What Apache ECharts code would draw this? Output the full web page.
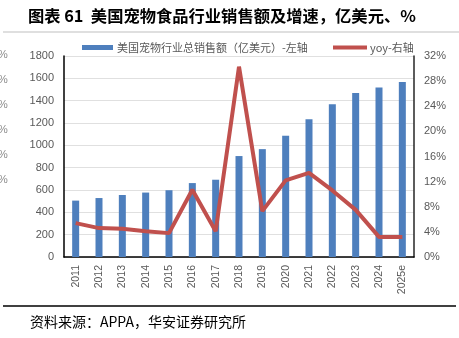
<!DOCTYPE html>
<html>
<head>
<meta charset="utf-8">
<script src="https://cdn.jsdelivr.net/npm/echarts@6/dist/echarts.min.js"></script>
<style>
  html, body { margin: 0; padding: 0; background: #fff; }
  #chart { width: 459px; height: 338px; }
</style>
</head>
<body>
<div id="chart"></div>
<script>
// Years on the category axis
const years = ['2011', '2012', '2013', '2014', '2015', '2016', '2017', '2018',
               '2019', '2020', '2021', '2022', '2023', '2024', '2025e'];
// Total US pet industry sales, 100 million USD (left axis)
const sales = [505, 528, 555, 577, 598, 662, 692, 904, 966, 1086, 1233, 1367, 1468, 1519, 1567];
// Year-over-year growth, % (right axis)
const yoy = [5.4, 4.6, 4.5, 4.1, 3.8, 10.7, 4.1, 30.3, 7.3, 12.2, 13.4, 10.6, 7.5, 3.2, 3.2];
// Axis tick settings
const leftTicks = { min: 0, max: 1800, interval: 200 };
const rightTicks = { min: 0, max: 32, interval: 4 };

const salesName = '美国宠物行业总销售额（亿美元）-左轴';
const yoyName = 'yoy-右轴';
const barColor = '#4e7fbd';
const lineColor = '#c0504d';
const labelColor = '#595959';
const cjk = '"Noto Sans CJK SC", "Liberation Sans", sans-serif';
const num = '"Liberation Sans", Arial, sans-serif';

const chart = echarts.init(document.getElementById('chart'), null, { renderer: 'canvas' });

// Clipped percent marks along the left edge
const ghost = [55, 80, 105, 130, 155, 180].map(y => ({
  type: 'text', left: -2, top: y - 6,
  style: { text: '%', fill: '#8c8c8c', font: '11px ' + num }
}));

chart.setOption({
  animation: false,
  backgroundColor: '#ffffff',
  grid: { left: 64, right: 45, top: 56, bottom: 81, containLabel: false },
  legend: [
    {
      data: [salesName], left: 77, top: 37, itemWidth: 31, itemHeight: 5, itemGap: 4,
      icon: 'rect',
      textStyle: { color: labelColor, fontSize: 11, fontFamily: cjk, padding: [0, 0, 0, -1] }
    },
    {
      data: [{ name: yoyName, icon: 'rect' }], left: 328, top: 37, itemWidth: 34, itemHeight: 4,
      textStyle: { color: labelColor, fontSize: 11, fontFamily: cjk, padding: [0, 0, 0, -2] }
    }
  ],
  xAxis: {
    type: 'category', data: years, boundaryGap: true,
    axisLine: { lineStyle: { color: '#000', width: 1.5 } },
    axisTick: { show: false },
    axisLabel: { rotate: 90, color: labelColor, fontSize: 10.5, fontFamily: num, margin: 8, interval: 0 }
  },
  yAxis: [
    {
      type: 'value', ...leftTicks,
      axisLine: { show: true, lineStyle: { color: '#000', width: 1.5 } },
      axisTick: { show: false },
      splitLine: { lineStyle: { color: '#e0e0e0', width: 1 } },
      axisLabel: { color: labelColor, fontSize: 11, fontFamily: num, margin: 10, formatter: v => String(v) }
    },
    {
      type: 'value', ...rightTicks, position: 'right',
      axisLine: { show: true, lineStyle: { color: '#262626', width: 1.5 } },
      axisTick: { show: false },
      splitLine: { show: false },
      axisLabel: { color: labelColor, fontSize: 11, fontFamily: num, margin: 10, formatter: v => v + '%' }
    }
  ],
  series: [
    {
      name: salesName, type: 'bar', data: sales, yAxisIndex: 0, barWidth: 7,
      itemStyle: { color: barColor }
    },
    {
      name: yoyName, type: 'line', data: yoy, yAxisIndex: 1,
      symbol: 'none', lineStyle: { color: lineColor, width: 4 }, itemStyle: { color: lineColor }
    }
  ],
  graphic: [
    {
      type: 'text', left: 28, top: 8,
      style: { text: '图表 61  美国宠物食品行业销售额及增速，亿美元、%', fill: '#000',
               font: 'bold 16.3px ' + cjk }
    },
    { type: 'line', shape: { x1: 3, y1: 32, x2: 459, y2: 32 }, style: { stroke: '#bfbfbf', lineWidth: 1 } },
    { type: 'line', shape: { x1: 3, y1: 306, x2: 456, y2: 306 }, style: { stroke: '#000', lineWidth: 1.5 } },
    {
      type: 'text', left: 30, top: 315,
      style: { text: '资料来源：APPA，华安证券研究所', fill: '#000', font: '14px ' + cjk }
    },
    ...ghost
  ]
});
</script>
</body>
</html>
